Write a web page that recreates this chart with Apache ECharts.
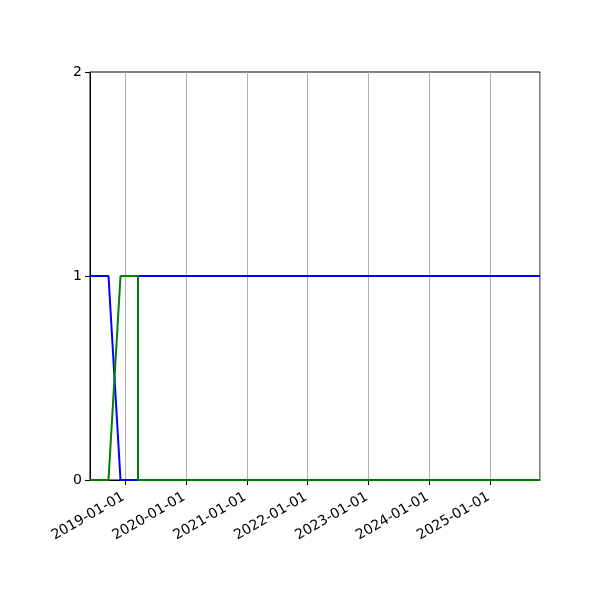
<!DOCTYPE html>
<html>
<head>
<meta charset="utf-8">
<script src="https://cdn.jsdelivr.net/npm/echarts@6/dist/echarts.min.js"></script>
<style>html,body{margin:0;padding:0;background:#fff}#c{width:600px;height:600px}</style>
</head>
<body>
<div id="c"></div>
<script>
const blueDates = ['2018-06-05', '2018-09-24', '2018-12-05', '2019-03-20', '2019-03-20', '2025-10-25'];
const blueValues = [1, 1, 0, 0, 1, 1];
const greenDates = ['2018-06-05', '2018-09-24', '2018-12-05', '2019-03-20', '2019-03-20', '2025-10-25'];
const greenValues = [0, 0, 1, 1, 0, 0];
const xMin = '2018-06-05';
const xMax = '2025-10-25';
const yTicks = [0, 1, 2];

const chart = echarts.init(document.getElementById('c'), null, {renderer: 'canvas'});
const font = 'DejaVu Sans';
chart.setOption({
  animation: false,
  grid: {left: 90, right: 60, top: 72, bottom: 120, show: true, borderColor: '#000', borderWidth: 1, backgroundColor: 'transparent'},
  xAxis: {
    type: 'time',
    min: new Date(xMin).getTime(),
    max: new Date(xMax).getTime(),
    splitNumber: 7,
    axisLine: {show: true, lineStyle: {color: '#000', width: 1}},
    axisTick: {show: true, inside: false, length: 5, lineStyle: {color: '#000'}},
    axisLabel: {
      rotate: 30, color: '#000', fontFamily: font, fontSize: 14, margin: 15,
      padding: [0, 2, 0, 0],
      showMinLabel: false, showMaxLabel: false,
      formatter: '{yyyy}-{MM}-{dd}'
    },
    splitLine: {show: true, lineStyle: {color: '#b0b0b0', width: 1}},
    minorTick: {show: false}
  },
  yAxis: {
    type: 'value', min: yTicks[0], max: yTicks[yTicks.length - 1], interval: 1,
    axisLine: {show: true, lineStyle: {color: '#000', width: 1}},
    axisTick: {show: true, inside: false, length: 5, lineStyle: {color: '#000'}},
    axisLabel: {color: '#000', fontFamily: font, fontSize: 14, margin: 8},
    splitLine: {show: false}
  },
  series: [
    {type: 'line', data: blueDates.map((d, i) => [d, blueValues[i]]), showSymbol: false, symbol: 'none',
     lineStyle: {color: '#0000ff', width: 2}, itemStyle: {color: '#0000ff'}, z: 2},
    {type: 'line', data: greenDates.map((d, i) => [d, greenValues[i]]), showSymbol: false, symbol: 'none',
     lineStyle: {color: '#008000', width: 2}, itemStyle: {color: '#008000'}, z: 3}
  ]
});
</script>
</body>
</html>
